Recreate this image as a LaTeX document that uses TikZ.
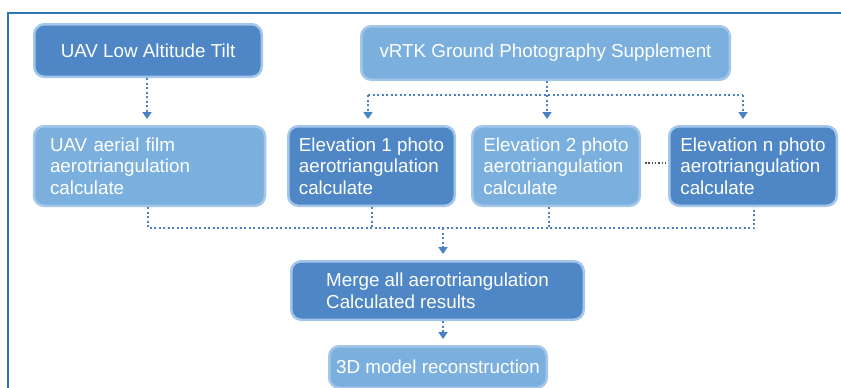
\documentclass[tikz,border=0pt]{standalone}
\usepackage{fontspec}
\setmainfont{Liberation Sans}
\usetikzlibrary{arrows.meta}

\definecolor{boxdark}{HTML}{4F87C6}
\definecolor{boxlight}{HTML}{7BB0DE}
\definecolor{boxedge}{HTML}{A3C6EA}
\definecolor{framecol}{HTML}{2E75B6}
\definecolor{linkcol}{HTML}{4A80C4}

\tikzset{
  every node/.style={font=\fontsize{18.8}{21.7}\selectfont, text=white},
  flowbox/.style={draw=boxedge, line width=2.5pt, rounded corners=10pt,
                  inner sep=0pt, align=left},
  darkbox/.style={flowbox, fill=boxdark},
  lightbox/.style={flowbox, fill=boxlight},
  dotlink/.style={draw=linkcol, line width=2pt, dash pattern=on 2pt off 2.5pt},
  dotarrow/.style={dotlink, -{Triangle[width=9pt,length=7pt]}, shorten >=6pt},
  gaplink/.style={draw=black!70, line width=1.2pt, dash pattern=on 1.5pt off 1.8pt},
  framebar/.style={draw=framecol, line width=2.5pt}
}

\begin{document}
\begin{tikzpicture}[x=1pt, y=1pt]
  \useasboundingbox (0,0) rectangle (841,-388);

  % outer frame (top and left sides only)
  \draw[framebar] (8,-388) -- (8,-13) -- (841,-13);

  % sources
  \node[darkbox, minimum width=227.5pt, minimum height=52.5pt]
    (low) at (148,-50.5) {UAV Low Altitude Tilt};
  \node[lightbox, minimum width=368.5pt, minimum height=53.5pt]
    (vrtk) at (545.5,-53) {vRTK Ground Photography Supplement};

  % aerotriangulation blocks
  \node[lightbox, minimum height=79.5pt, text width=199pt, inner xsep=16pt]
    (aerial) at (149.5,-166) {UAV aerial film\\aerotriangulation\\calculate};
  \node[darkbox, minimum width=166.5pt, minimum height=79.5pt]
    (e1) at (371.5,-166) {Elevation 1 photo\\aerotriangulation\\calculate};
  \node[lightbox, minimum width=167.5pt, minimum height=79.5pt]
    (e2) at (556,-166) {Elevation 2 photo\\aerotriangulation\\calculate};
  \node[darkbox, minimum width=167.5pt, minimum height=79.5pt]
    (en) at (753,-166) {Elevation n photo\\aerotriangulation\\calculate};

  % results
  \node[darkbox, minimum width=292.5pt, minimum height=58.5pt]
    (merge) at (437.5,-290.5) {Merge all aerotriangulation\\Calculated results};
  \node[lightbox, minimum width=217.5pt, minimum height=41.5pt]
    (model) at (438,-367) {3D model reconstruction};

  % bus coordinates
  \coordinate (topL) at (368,-95);
  \coordinate (topM) at (547,-95);
  \coordinate (topR) at (743,-95);
  \coordinate (botL) at (148,-228);
  \coordinate (botM) at (443,-228);
  \coordinate (botR) at (754,-228);

  % UAV branch
  \draw[dotarrow] (low.south -| 147,0) -- (aerial.north -| 147,0);

  % vRTK fan-out
  \draw[dotlink] (vrtk.south -| topM) -- (topM);
  \draw[dotlink] (topL) -- (topR);
  \draw[dotarrow] (topL) -- (e1.north -| topL);
  \draw[dotarrow] (topM) -- (e2.north -| topM);
  \draw[dotarrow] (topR) -- (en.north -| topR);

  % gap between elevation 2 and n
  \draw[gaplink, shorten <=4pt, shorten >=3pt] (e2.east |- 0,-163) -- (en.west |- 0,-163);

  % collect into merge
  \draw[dotlink] (aerial.south -| botL) -- (botL) -- (botR) -- (en.south -| botR);
  \draw[dotlink] (e1.south -| 372,0) -- (372,-228);
  \draw[dotlink] (e2.south -| 549,0) -- (549,-228);
  \draw[dotarrow] (botM) -- (merge.north -| botM);
  \draw[dotarrow] (merge.south -| botM) -- (model.north -| botM);
\end{tikzpicture}
\end{document}
